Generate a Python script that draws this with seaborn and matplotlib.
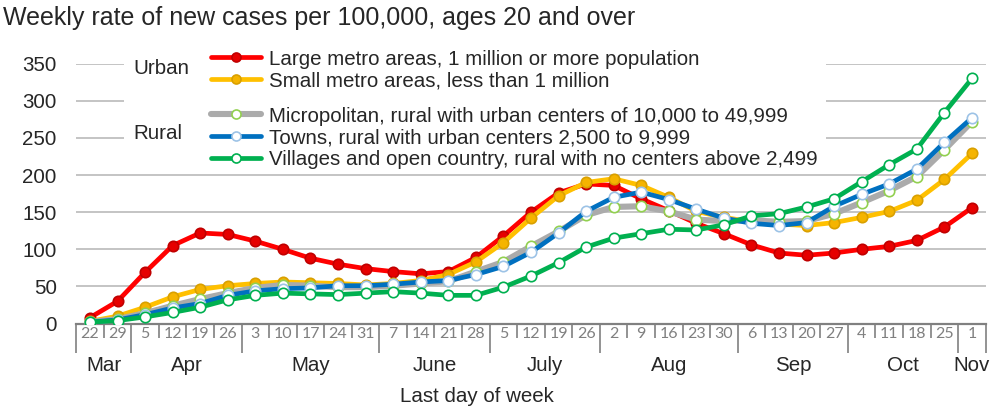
import numpy as np
import pandas as pd
import matplotlib
matplotlib.use('Agg')
import matplotlib.pyplot as plt
import seaborn as sns
from matplotlib.patches import Rectangle
from matplotlib.lines import Line2D

# week ending dates (day of month, month)
days = [22, 29, 5, 12, 19, 26, 3, 10, 17, 24, 31, 7, 14, 21, 28, 5, 12, 19, 26,
        2, 9, 16, 23, 30, 6, 13, 20, 27, 4, 11, 18, 25, 1]
months = (['Mar'] * 2 + ['Apr'] * 4 + ['May'] * 5 + ['June'] * 4 + ['July'] * 4
          + ['Aug'] * 5 + ['Sep'] * 4 + ['Oct'] * 4 + ['Nov'])

# weekly rate of new cases per 100,000
large_metro = [8, 30, 69, 105, 122, 120, 111, 100, 88, 80, 74, 70, 67, 70, 89, 118, 150,
               176, 188, 186, 168, 152, 135, 121, 106, 95, 92, 95, 100, 104, 112, 130, 156]
small_metro = [3, 10, 22, 36, 46, 51, 54, 56, 55, 54, 52, 54, 58, 66, 83, 109, 142,
               172, 190, 195, 186, 170, 151, 143, 137, 134, 132, 136, 143, 151, 166, 194, 229]
micropolitan = [2, 6, 14, 24, 33, 41, 48, 52, 51, 49, 49, 51, 54, 57, 70, 83, 104,
                124, 146, 157, 158, 151, 140, 138, 139, 137, 138, 148, 163, 179, 198, 234, 272]
towns = [2, 5, 12, 21, 27, 38, 44, 47, 48, 51, 51, 53, 56, 58, 66, 77, 96,
         122, 151, 170, 177, 167, 154, 142, 135, 132, 136, 158, 174, 188, 208, 244, 277]
villages = [2, 4, 9, 15, 22, 32, 38, 41, 40, 39, 41, 43, 41, 38, 38, 49, 64,
            82, 103, 115, 121, 127, 126, 133, 145, 148, 157, 168, 191, 214, 235, 284, 330]

labels = ['Large metro areas, 1 million or more population',
          'Small metro areas, less than 1 million',
          'Micropolitan, rural with urban centers of 10,000 to 49,999',
          'Towns, rural with urban centers 2,500 to 9,999',
          'Villages and open country, rural with no centers above 2,499']

df = pd.DataFrame({'week': np.arange(len(days)),
                   'large': large_metro, 'small': small_metro, 'micro': micropolitan,
                   'towns': towns, 'villages': villages})

# column, line colour, marker face, marker edge, line width
styles = [
    ('large', '#FF0000', '#E60000', '#C00000', 3.4),
    ('small', '#FFC000', '#F5B400', '#D9A000', 3.4),
    ('micro', '#ABABAB', 'white', '#92D050', 4.4),
    ('towns', '#0070C0', 'white', '#9DC3E6', 3.4),
    ('villages', '#00B050', 'white', '#00B050', 3.4),
]

sns.set_style('white')
plt.rcParams['font.family'] = ['Liberation Sans', 'DejaVu Sans']

fig = plt.figure(figsize=(9.93, 4.08), dpi=100)
ax = fig.add_axes([0.0767, 0.2069, 0.916, 0.6372])

handles = []
for z, (col, c, fc, ec, lw) in enumerate(styles):
    sns.lineplot(data=df, x='week', y=col, ax=ax, color=c, lw=lw, marker='o',
                 markersize=7.5, markerfacecolor=fc, markeredgecolor=ec,
                 markeredgewidth=1.2, zorder=3 + z)
    handles.append(Line2D([], [], color=c, lw=lw, marker='o', markersize=6.5,
                          markerfacecolor=fc, markeredgecolor=ec, markeredgewidth=1.2))

ax.set_xlim(-0.5, len(days) - 0.5)
ax.set_ylim(0, 350)
ax.set_yticks(range(0, 351, 50))
ax.yaxis.grid(True, color='#BFBFBF', lw=1.3)
ax.set_axisbelow(True)
for s in ['left', 'right', 'top']:
    ax.spines[s].set_visible(False)
ax.spines['bottom'].set_color('#808080')
ax.spines['bottom'].set_linewidth(1.6)
ax.tick_params(axis='y', length=0, pad=14, labelsize=14.8)
ax.set_xticks(range(len(days)))
ax.set_xticklabels(days, fontsize=11.5, color='#808080', fontfamily='Lato')
ax.tick_params(axis='x', length=0, pad=2.5)
ax.set_xlabel('')
ax.set_ylabel('')

# separators between weeks and months
trans = ax.get_xaxis_transform()
short_x = [i + 0.5 for i in range(len(days) - 1) if months[i] == months[i + 1]]
long_x = [-0.5] + [i + 0.5 for i in range(len(days) - 1) if months[i] != months[i + 1]] + [len(days) - 0.5]
ax.vlines(short_x, -0.056, 0, transform=trans, clip_on=False, color='#808080', lw=1.2)
ax.vlines(long_x, -0.114, 0, transform=trans, clip_on=False, color='#808080', lw=1.2)

month_names = list(dict.fromkeys(months))
for m in month_names:
    idx = [i for i, mm in enumerate(months) if mm == m]
    ax.text(np.mean(idx), -0.162, m, transform=trans, ha='center', va='center', fontsize=14.8)

# white box behind legend
ax.add_patch(Rectangle((0.0526, 0.591), 0.7714, 0.49, transform=ax.transAxes,
                       facecolor='white', edgecolor='none', zorder=1, clip_on=False))

leg_kw = dict(loc='center left', frameon=False, fontsize=14.8, handlelength=2.45,
              handletextpad=0.35, labelspacing=0.14, borderpad=0, borderaxespad=0)
leg1 = ax.legend(handles[:2], labels[:2], bbox_to_anchor=(0.1482, 0.975), **leg_kw)
ax.add_artist(leg1)
ax.legend(handles[2:], labels[2:], bbox_to_anchor=(0.1482, 0.714), **leg_kw)

ax.text(0.0625, 0.983, 'Urban', transform=ax.transAxes, va='center', fontsize=14.8, zorder=6)
ax.text(0.0625, 0.732, 'Rural', transform=ax.transAxes, va='center', fontsize=14.8, zorder=6)

fig.text(0.003, 0.956, 'Weekly rate of new cases per 100,000, ages 20 and over',
         va='center', ha='left', fontsize=18)
fig.text(0.4804, 0.028, 'Last day of week', ha='center', va='center', fontsize=14.8)

fig.savefig('out.png', dpi=100)
